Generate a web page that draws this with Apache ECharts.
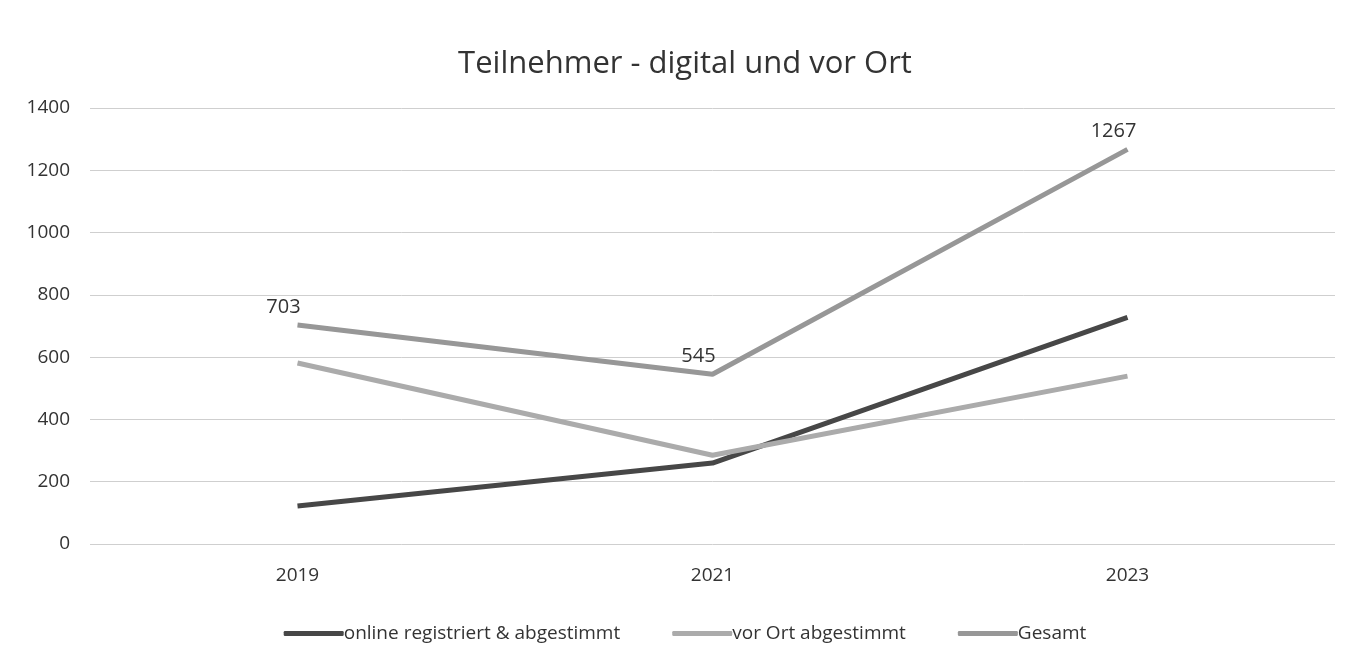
<!DOCTYPE html>
<html><head><meta charset="utf-8">
<script src="https://cdn.jsdelivr.net/npm/echarts@6/dist/echarts.min.js"></script>
<style>html,body{margin:0;padding:0;background:#fff}#c{width:1370px;height:658px}</style>
</head><body><div id="c"></div>
<script>
const categories = ['2019', '2021', '2023'];
const onlineValues = [122, 260, 728];
const vorOrtValues = [581, 285, 539];
const gesamtValues = [703, 545, 1267];
const seriesNames = ['online registriert & abgestimmt', 'vor Ort abgestimmt', 'Gesamt'];

const FONT = 'Open Sans';
const chart = echarts.init(document.getElementById('c'));
chart.setOption({
  backgroundColor: '#fff',
  animation: false,
  title: {
    text: 'Teilnehmer - digital und vor Ort',
    left: 'center', top: 44,
    textStyle: { fontFamily: FONT, fontSize: 31, fontWeight: 'normal', color: '#333' }
  },
  legend: {
    bottom: 10, left: 'center',
    itemWidth: 60, itemHeight: 5, itemGap: 52,
    icon: 'roundRect',
    textStyle: { fontFamily: FONT, fontSize: 19, color: '#333', padding: [0, 0, 0, -5] },
    data: seriesNames
  },
  grid: { left: 90, right: 35, top: 108, bottom: 114 },
  xAxis: {
    type: 'category', data: categories, boundaryGap: true,
    axisLine: { show: false }, axisTick: { show: false },
    axisLabel: { fontFamily: FONT, fontSize: 19, color: '#333', margin: 22 }
  },
  yAxis: {
    type: 'value', min: 0, max: 1400, interval: 200,
    axisLine: { show: false }, axisTick: { show: false },
    axisLabel: { fontFamily: FONT, fontSize: 19, color: '#333', margin: 20,
      formatter: v => String(v) },
    splitLine: { lineStyle: { color: '#cfcfcf', width: 1 } }
  },
  series: [
    { name: seriesNames[0], type: 'line', data: onlineValues, symbol: 'none',
      lineStyle: { color: '#474747', width: 5 }, itemStyle: { color: '#474747' } },
    { name: seriesNames[1], type: 'line', data: vorOrtValues, symbol: 'none',
      lineStyle: { color: '#ababab', width: 5 }, itemStyle: { color: '#ababab' } },
    { name: seriesNames[2], type: 'line', data: gesamtValues,
      symbol: 'circle', symbolSize: 0, showSymbol: true,
      lineStyle: { color: '#979797', width: 5 }, itemStyle: { color: '#979797' },
      label: { show: true, position: 'top', offset: [-14, -3],
        fontFamily: FONT, fontSize: 20, color: '#333' } }
  ]
});
</script></body></html>
